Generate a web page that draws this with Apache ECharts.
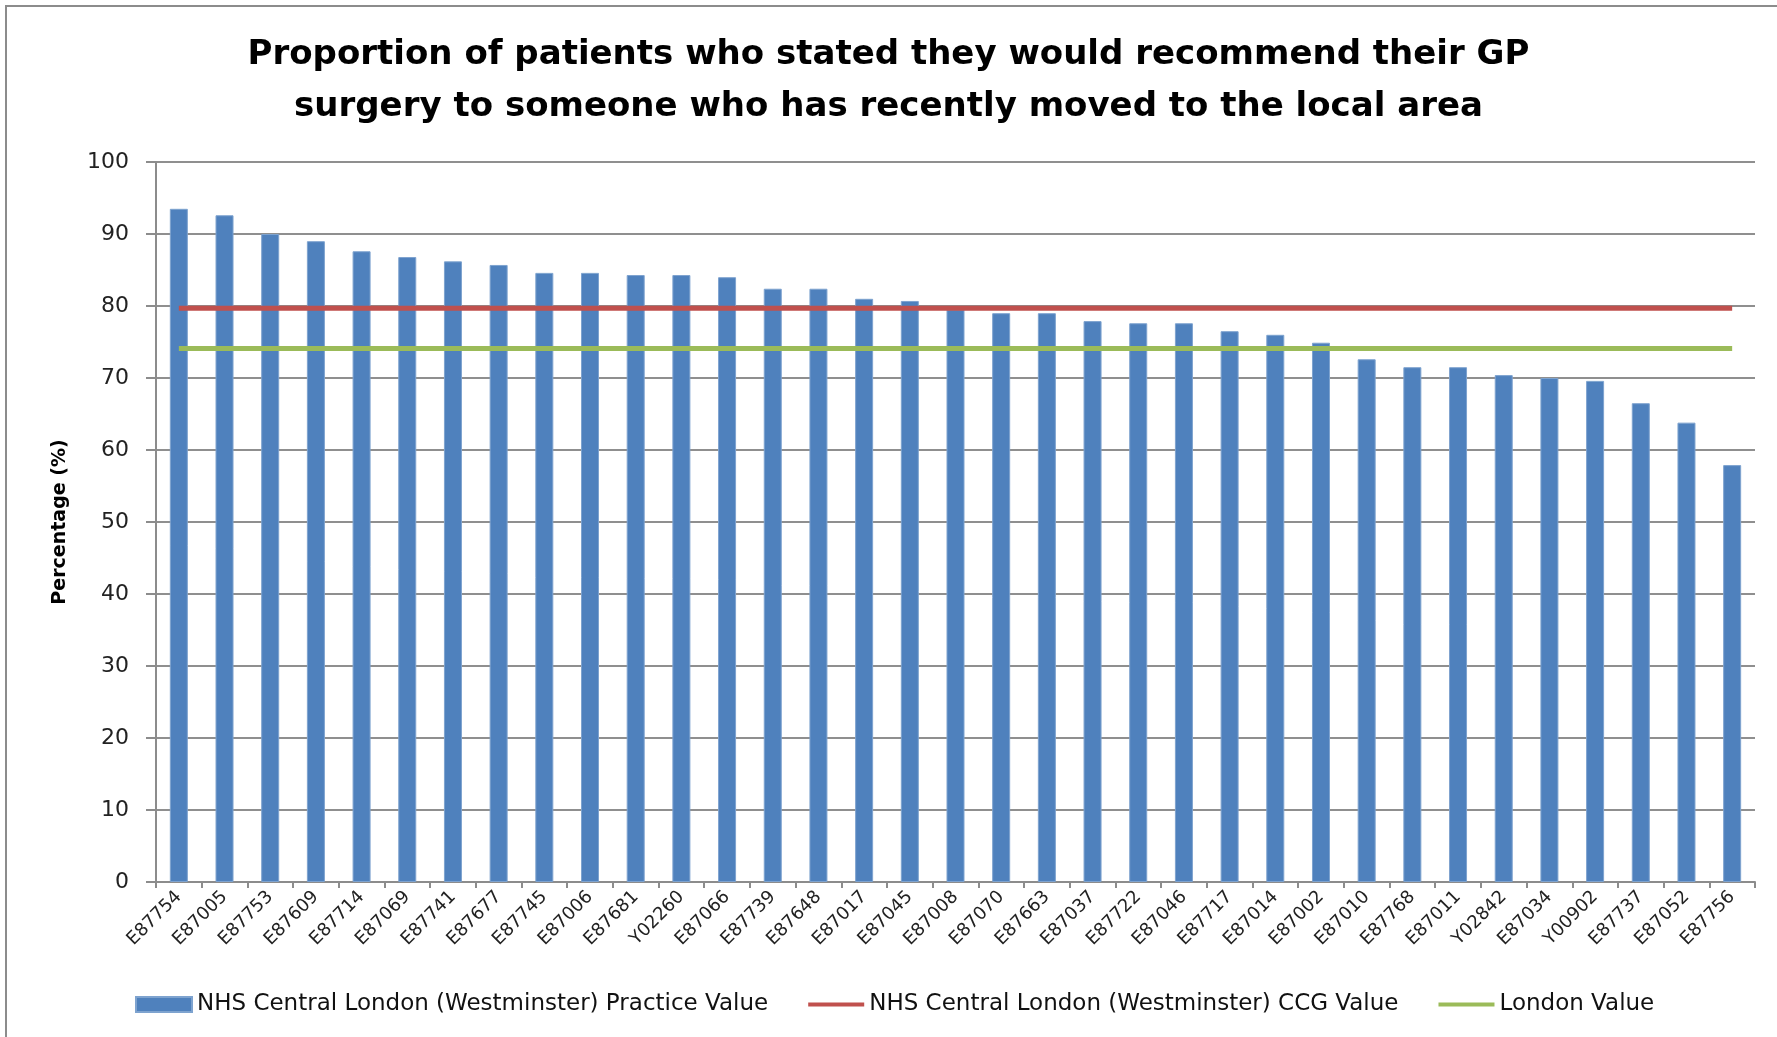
<!DOCTYPE html>
<html>
<head>
<meta charset="utf-8">
<script src="https://cdn.jsdelivr.net/npm/echarts@6/dist/echarts.min.js"></script>
<style>
  html, body { margin: 0; padding: 0; background: #fff; }
  #main { width: 1777px; height: 1037px; }
</style>
</head>
<body>
<div id="main"></div>
<script>
// practice codes along the x axis
var practices = ['E87754','E87005','E87753','E87609','E87714','E87069','E87741','E87677','E87745','E87006',
  'E87681','Y02260','E87066','E87739','E87648','E87017','E87045','E87008','E87070','E87663',
  'E87037','E87722','E87046','E87717','E87014','E87002','E87010','E87768','E87011','Y02842',
  'E87034','Y00902','E87737','E87052','E87756'];

// practice values (%)
var practiceValues = [93.5, 92.6, 90.0, 89.0, 87.6, 86.8, 86.2, 85.7, 84.6, 84.6,
  84.3, 84.3, 84.0, 82.4, 82.4, 81.0, 80.7, 79.5, 79.0, 79.0,
  77.9, 77.6, 77.6, 76.5, 76.0, 74.9, 72.6, 71.5, 71.5, 70.4,
  70.0, 69.6, 66.5, 63.8, 57.9];

// reference values, same for every practice
var ccgValue = 79.7;
var londonValue = 74.1;

var yTicks = [0, 10, 20, 30, 40, 50, 60, 70, 80, 90, 100];

var FONT = 'DejaVu Sans';
// thin bar shape used as legend icon for the two lines
var LINE_ICON = 'path://M0,0L56,0L56,4L0,4Z';

var chart = echarts.init(document.getElementById('main'));

var option = {
  backgroundColor: '#fff',
  animation: false,
  title: {
    text: 'Proportion of patients who stated they would recommend their GP\nsurgery to someone who has recently moved to the local area',
    left: 'center',
    top: 24,
    textStyle: {
      fontFamily: FONT,
      fontWeight: 'bold',
      fontSize: 34,
      lineHeight: 52,
      color: '#000'
    }
  },
  graphic: [{
    type: 'rect',
    shape: { x: 6, y: 6, width: 1800, height: 1100 },
    style: { fill: 'none', stroke: '#8c8c8c', lineWidth: 2 },
    silent: true
  }],
  legend: {
    left: 130,
    top: 988,
    itemWidth: 56,
    itemHeight: 15,
    itemGap: 40,
    textStyle: { fontFamily: FONT, fontSize: 23, color: '#111' },
    data: [
      { name: 'NHS Central London (Westminster) Practice Value', icon: 'rect' },
      { name: 'NHS Central London (Westminster) CCG Value', icon: LINE_ICON },
      { name: 'London Value', icon: LINE_ICON }
    ]
  },
  grid: {
    left: 156,
    right: 22,
    top: 162,
    bottom: 155
  },
  xAxis: {
    type: 'category',
    data: practices,
    axisLine: { lineStyle: { color: '#8c8c8c', width: 2 } },
    axisTick: { show: true, length: 6, lineStyle: { color: '#8c8c8c', width: 2 } },
    axisLabel: {
      rotate: 45,
      margin: 12,
      interval: 0,
      fontFamily: FONT,
      fontSize: 18,
      color: '#222'
    }
  },
  yAxis: {
    type: 'value',
    min: 0,
    max: 100,
    interval: 10,
    name: 'Percentage (%)',
    nameLocation: 'middle',
    nameGap: 86,
    nameRotate: 90,
    nameTextStyle: { fontFamily: FONT, fontWeight: 'bold', fontSize: 19, color: '#000' },
    axisLine: { show: true, lineStyle: { color: '#8c8c8c', width: 2 } },
    axisTick: { show: true, length: 10, lineStyle: { color: '#8c8c8c', width: 2 } },
    axisLabel: {
      margin: 27,
      fontFamily: FONT,
      fontSize: 22,
      color: '#222',
      formatter: function (v) { return yTicks.indexOf(v) >= 0 ? String(v) : ''; }
    },
    splitLine: { lineStyle: { color: '#8f8f8f', width: 2 } }
  },
  series: [
    {
      name: 'NHS Central London (Westminster) Practice Value',
      type: 'bar',
      data: practiceValues,
      barWidth: 18,
      itemStyle: { color: '#4f81bd', borderColor: '#7ea3cf', borderWidth: 1 }
    },
    {
      name: 'NHS Central London (Westminster) CCG Value',
      type: 'line',
      data: practices.map(function () { return ccgValue; }),
      symbol: 'none',
      lineStyle: { color: '#c0504d', width: 5 },
      itemStyle: { color: '#c0504d' },
      z: 3
    },
    {
      name: 'London Value',
      type: 'line',
      data: practices.map(function () { return londonValue; }),
      symbol: 'none',
      lineStyle: { color: '#9bbb59', width: 5 },
      itemStyle: { color: '#9bbb59' },
      z: 3
    }
  ]
};

chart.setOption(option);
</script>
</body>
</html>
